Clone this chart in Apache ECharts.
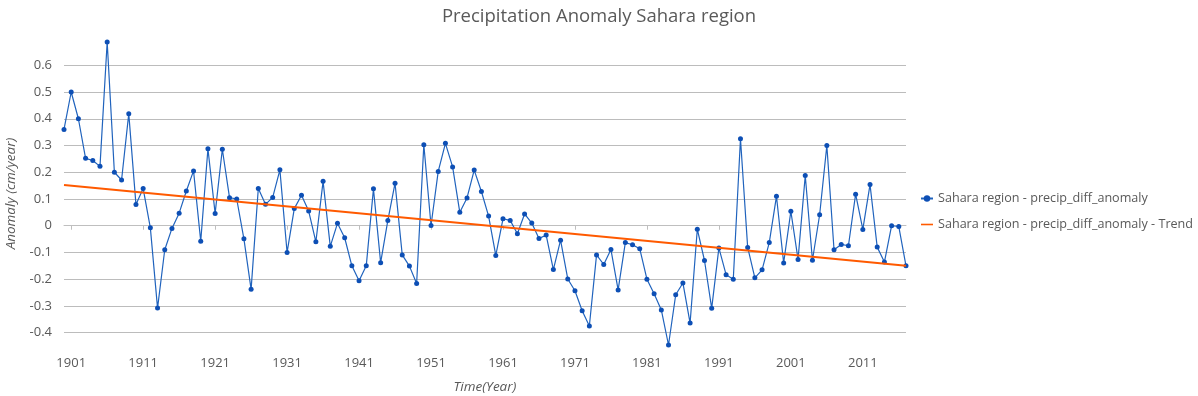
<!DOCTYPE html>
<html>
<head>
<meta charset="utf-8">
<script src="https://cdn.jsdelivr.net/npm/echarts@6/dist/echarts.min.js"></script>
<style>
  html, body { margin: 0; padding: 0; background: #fff; }
  #chart { width: 1198px; height: 396px; }
</style>
</head>
<body>
<div id="chart"></div>
<script>
// years 1900 - 2017
var years = [];
for (var y = 1900; y <= 2017; y++) years.push(String(y));

// anomaly values, one per year
var anomaly = [
  0.36, 0.50, 0.40, 0.252, 0.244, 0.222, 0.687, 0.20, 0.171, 0.419,
  0.079, 0.139, -0.008, -0.308, -0.09, -0.01, 0.047, 0.13, 0.205, -0.058,
  0.288, 0.046, 0.286, 0.105, 0.10, -0.049, -0.238, 0.139, 0.08, 0.106,
  0.209, -0.10, 0.064, 0.114, 0.055, -0.06, 0.166, -0.077, 0.009, -0.045,
  -0.15, -0.206, -0.15, 0.138, -0.138, 0.02, 0.159, -0.109, -0.151, -0.216,
  0.303, 0.001, 0.203, 0.308, 0.22, 0.05, 0.104, 0.208, 0.128, 0.036,
  -0.111, 0.026, 0.02, -0.03, 0.044, 0.01, -0.048, -0.035, -0.164, -0.054,
  -0.199, -0.243, -0.318, -0.375, -0.109, -0.145, -0.089, -0.24, -0.063, -0.071,
  -0.086, -0.20, -0.254, -0.315, -0.446, -0.258, -0.214, -0.364, -0.013, -0.13,
  -0.309, -0.083, -0.183, -0.20, 0.325, -0.081, -0.195, -0.165, -0.063, 0.11,
  -0.139, 0.054, -0.126, 0.188, -0.129, 0.041, 0.30, -0.09, -0.07, -0.075,
  0.118, -0.014, 0.154, -0.08, -0.136, 0.0, -0.003, -0.15
];

// trend line end points (first / last year)
var trendStart = 0.152;
var trendEnd = -0.150;

var trend = years.map(function (yr, i) {
  if (i === 0) return trendStart;
  if (i === years.length - 1) return trendEnd;
  return null;
});

var seriesName = 'Sahara region - precip_diff_anomaly';
var trendName = 'Sahara region - precip_diff_anomaly - Trend';
var textColor = '#595959';
var font = 'Open Sans';

var option = {
  animation: false,
  title: {
    text: 'Precipitation Anomaly Sahara region',
    left: 'center',
    top: 2,
    textStyle: { fontFamily: font, fontSize: 18.5, fontWeight: 'normal', color: textColor }
  },
  legend: {
    orient: 'vertical',
    left: 915,
    top: 187,
    itemWidth: 12,
    itemHeight: 8,
    itemGap: 13,
    data: [
      { name: seriesName },
      { name: trendName, icon: 'path://M0,0 L12,0 L12,1.6 L0,1.6 Z' }
    ],
    textStyle: { fontFamily: font, fontSize: 12.6, color: textColor }
  },
  grid: { left: 64, right: 292, top: 42, bottom: 51, outerBoundsMode: 'none' },
  xAxis: {
    type: 'category',
    data: years,
    boundaryGap: false,
    name: 'Time(Year)',
    nameLocation: 'middle',
    nameGap: 35,
    nameTextStyle: { fontFamily: font, fontSize: 13.5, fontStyle: 'italic', color: textColor },
    axisLine: { lineStyle: { color: '#bfbfbf' } },
    axisTick: {
      alignWithLabel: true,
      interval: function (i, v) { return (Number(v) - 1901) % 10 === 0; },
      length: 4,
      lineStyle: { color: '#bfbfbf' }
    },
    axisLabel: {
      interval: function (i, v) { return (Number(v) - 1901) % 10 === 0; },
      fontFamily: font, fontSize: 13, color: textColor, margin: 12
    },
    splitLine: { show: false }
  },
  yAxis: {
    type: 'value',
    min: 'dataMin',
    max: 'dataMax',
    splitNumber: 10,
    name: 'Anomaly (cm/year)',
    nameLocation: 'middle',
    nameGap: 45,
    nameTextStyle: { fontFamily: font, fontSize: 13.5, fontStyle: 'italic', color: textColor },
    axisLine: { show: false },
    axisTick: { show: false },
    axisLabel: {
      showMinLabel: false,
      showMaxLabel: false,
      fontFamily: font, fontSize: 13, color: textColor, margin: 12
    },
    splitLine: {
      showMinLine: false,
      showMaxLine: false,
      lineStyle: { color: '#bcbcbc', width: 1 }
    }
  },
  series: [
    {
      name: seriesName,
      type: 'line',
      data: anomaly,
      symbol: 'circle',
      symbolSize: 5,
      showAllSymbol: true,
      itemStyle: { color: '#0d4fb5' },
      lineStyle: { color: '#2063bd', width: 1.2 },
      z: 2
    },
    {
      name: trendName,
      type: 'line',
      data: trend,
      connectNulls: true,
      symbol: 'none',
      itemStyle: { color: '#ff5a00' },
      lineStyle: { color: '#ff5a00', width: 2 },
      z: 3
    }
  ]
};

var myChart = echarts.init(document.getElementById('chart'));
myChart.setOption(option);
</script>
</body>
</html>
